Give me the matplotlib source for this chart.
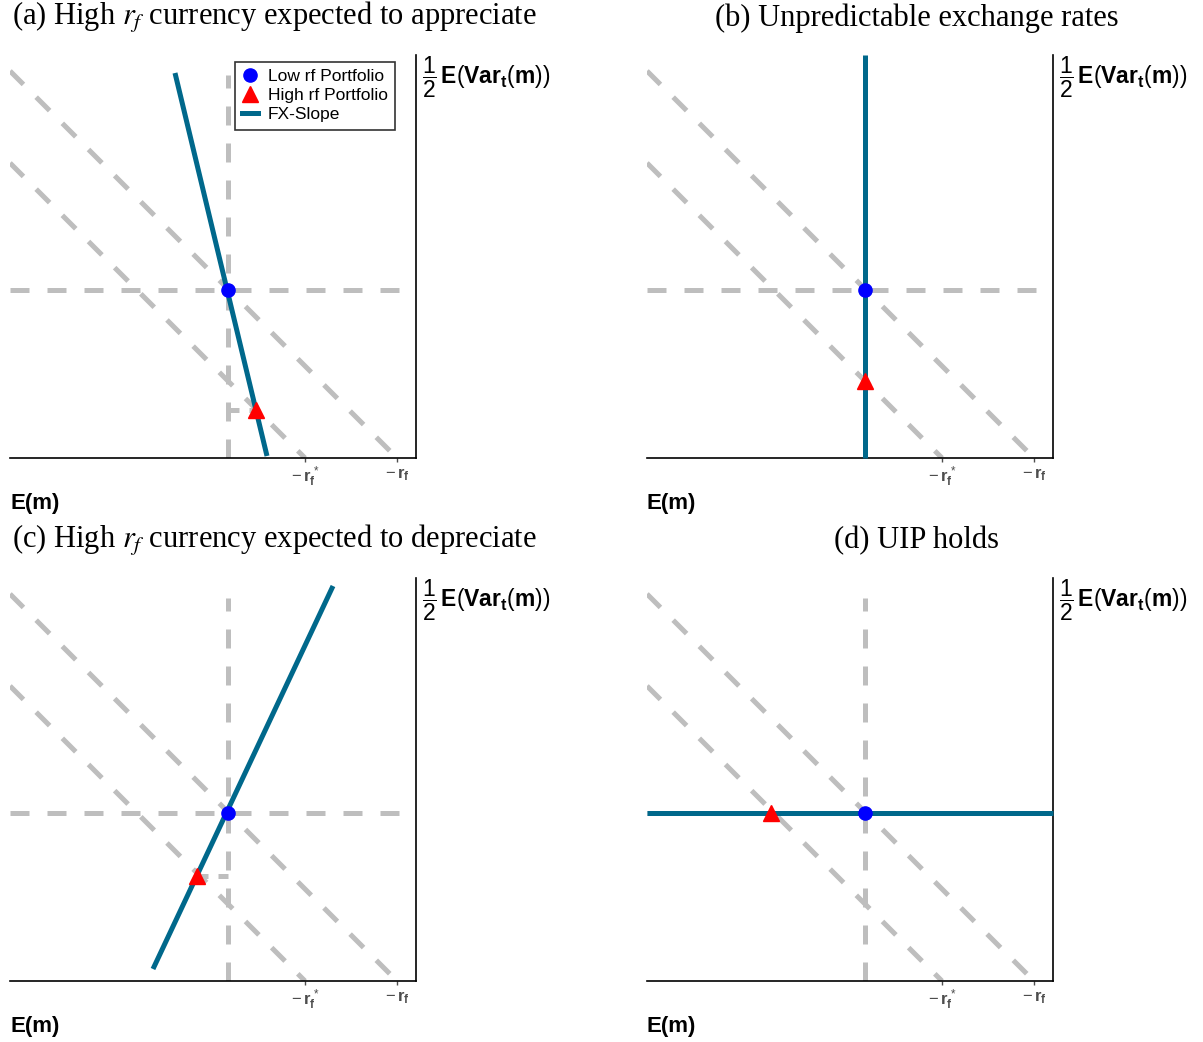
import matplotlib
matplotlib.use("Agg")
import matplotlib.pyplot as plt
from matplotlib.lines import Line2D

plt.rcParams['mathtext.rm'] = 'Liberation Sans'
plt.rcParams['mathtext.bf'] = 'Liberation Sans:bold'
plt.rcParams['mathtext.it'] = 'Liberation Sans:italic'
plt.rcParams['mathtext.sf'] = 'Liberation Sans'

# ---------------- data ----------------
titles = [r"(a) High $r_f$ currency expected to appreciate",
          "(b) Unpredictable exchange rates",
          r"(c) High $r_f$ currency expected to depreciate",
          "(d) UIP holds"]
xmax, ymax = 4.06, 4.03
iso_intercepts = [3.87, 2.95]          # -r_f , -r_f*
tick_pos = [2.95, 3.87]
tick_labels = [r"$-\,\mathbf{r}_{\mathbf{f}}^{\,*}$", r"$-\,\mathbf{r}_{\mathbf{f}}$"]
low_x, low_y = 2.18, 1.68
high_x = [2.46, 2.18, 1.87, 1.24]
high_y = [0.48, 0.77, 1.05, 1.68]
fx_x = [[1.65, 2.57], [2.18, 2.18], [1.43, 3.23], [0.0, 4.06]]
fx_y = [[3.85, 0.02], [0.0, 4.03], [0.12, 3.95], [1.68, 1.68]]
hline_end = 3.95
vline_top = 3.83

GRAY = "#BEBEBE"
TEAL = "#00688B"
W, H = 1203, 1042

fig = plt.figure(figsize=(W / 100, H / 100), dpi=100)

# pixel boxes: left, top
boxes = [(10, 55), (647, 55), (10, 578), (647, 578)]
aw, ah = 406, 403
title_cx = [274, 917, 274, 917]
title_cy = [18, 18, 541, 541]

dash = (0, (3.8, 3.6))
lw = 3.6

for i in range(4):
    L, T = boxes[i]
    ax = fig.add_axes([L / W, 1 - (T + ah) / H, aw / W, ah / H])
    ax.set_xlim(0, xmax)
    ax.set_ylim(0, ymax)
    for s in ["top", "left"]:
        ax.spines[s].set_visible(False)
    ax.spines["right"].set_linewidth(1.2)
    ax.spines["bottom"].set_linewidth(1.2)

    # iso lines
    for c in iso_intercepts:
        ax.plot([0, c], [c, 0], color=GRAY, lw=lw, ls=dash, zorder=1)
    # reference dashed lines through low-rf point
    ax.plot([0, hline_end], [low_y, low_y], color=GRAY, lw=lw, ls=dash, zorder=1)
    ax.plot([low_x, low_x], [0, vline_top], color=GRAY, lw=lw, ls=dash, zorder=1)
    # short dashed segment from triangle to vertical
    if abs(high_x[i] - low_x) > 1e-6 and abs(high_y[i] - low_y) > 1e-6:
        ax.plot([min(high_x[i], low_x), max(high_x[i], low_x)], [high_y[i], high_y[i]],
                color=GRAY, lw=lw, ls=(0, (2.2, 2.0)), zorder=1)

    ax.plot(fx_x[i], fx_y[i], color=TEAL, lw=lw, solid_capstyle="butt", zorder=3,
            clip_on=False)
    ax.plot([low_x], [low_y], marker="o", color="#0000FF", ms=9.5, ls="none", zorder=5,
            clip_on=False)
    ax.plot([high_x[i]], [high_y[i]], marker="^", color="#FF0000", ms=12, ls="none",
            zorder=5, clip_on=False)

    ax.set_yticks([])
    ax.set_xticks(tick_pos)
    ax.set_xticklabels(tick_labels, fontsize=12, color="#4D4D4D",
                       math_fontfamily="custom")
    ax.tick_params(axis="x", length=3, width=1, color="#4D4D4D", pad=2)

    ax.annotate(r"$\dfrac{1}{2}\,\mathbf{E}\left(\mathbf{Var}_{\mathbf{t}}(\mathbf{m})\right)$",
                xy=(1, 1), xycoords="axes fraction", xytext=(4, 0),
                textcoords="offset points", ha="left", va="top", fontsize=16.5,
                math_fontfamily="custom")
    ax.annotate("E(m)", xy=(0, 0), xycoords="axes fraction", xytext=(0, -25),
                textcoords="offset points", ha="left", va="top", fontsize=16,
                fontweight="bold", family="Liberation Sans")

    fig.text(title_cx[i] / W, 1 - title_cy[i] / H, titles[i], ha="center", va="center",
             fontsize=22, family="Liberation Serif", math_fontfamily="stix")

    if i == 0:
        handles = [Line2D([], [], marker="o", color="#0000FF", ls="none", ms=9.5),
                   Line2D([], [], marker="^", color="#FF0000", ls="none", ms=12),
                   Line2D([], [], color=TEAL, lw=3.6)]
        leg = ax.legend(handles, ["Low rf Portfolio", "High rf Portfolio", "FX-Slope"],
                        loc="upper right", bbox_to_anchor=(0.949, 0.983),
                        prop={"family": "Liberation Sans", "size": 12.5},
                        frameon=True, fancybox=False, framealpha=1, edgecolor="#333333",
                        handlelength=0.9, handletextpad=0.6, labelspacing=0.22,
                        borderpad=0.42, borderaxespad=0)
        leg.get_frame().set_linewidth(1.2)

fig.savefig("out.png", dpi=100)
